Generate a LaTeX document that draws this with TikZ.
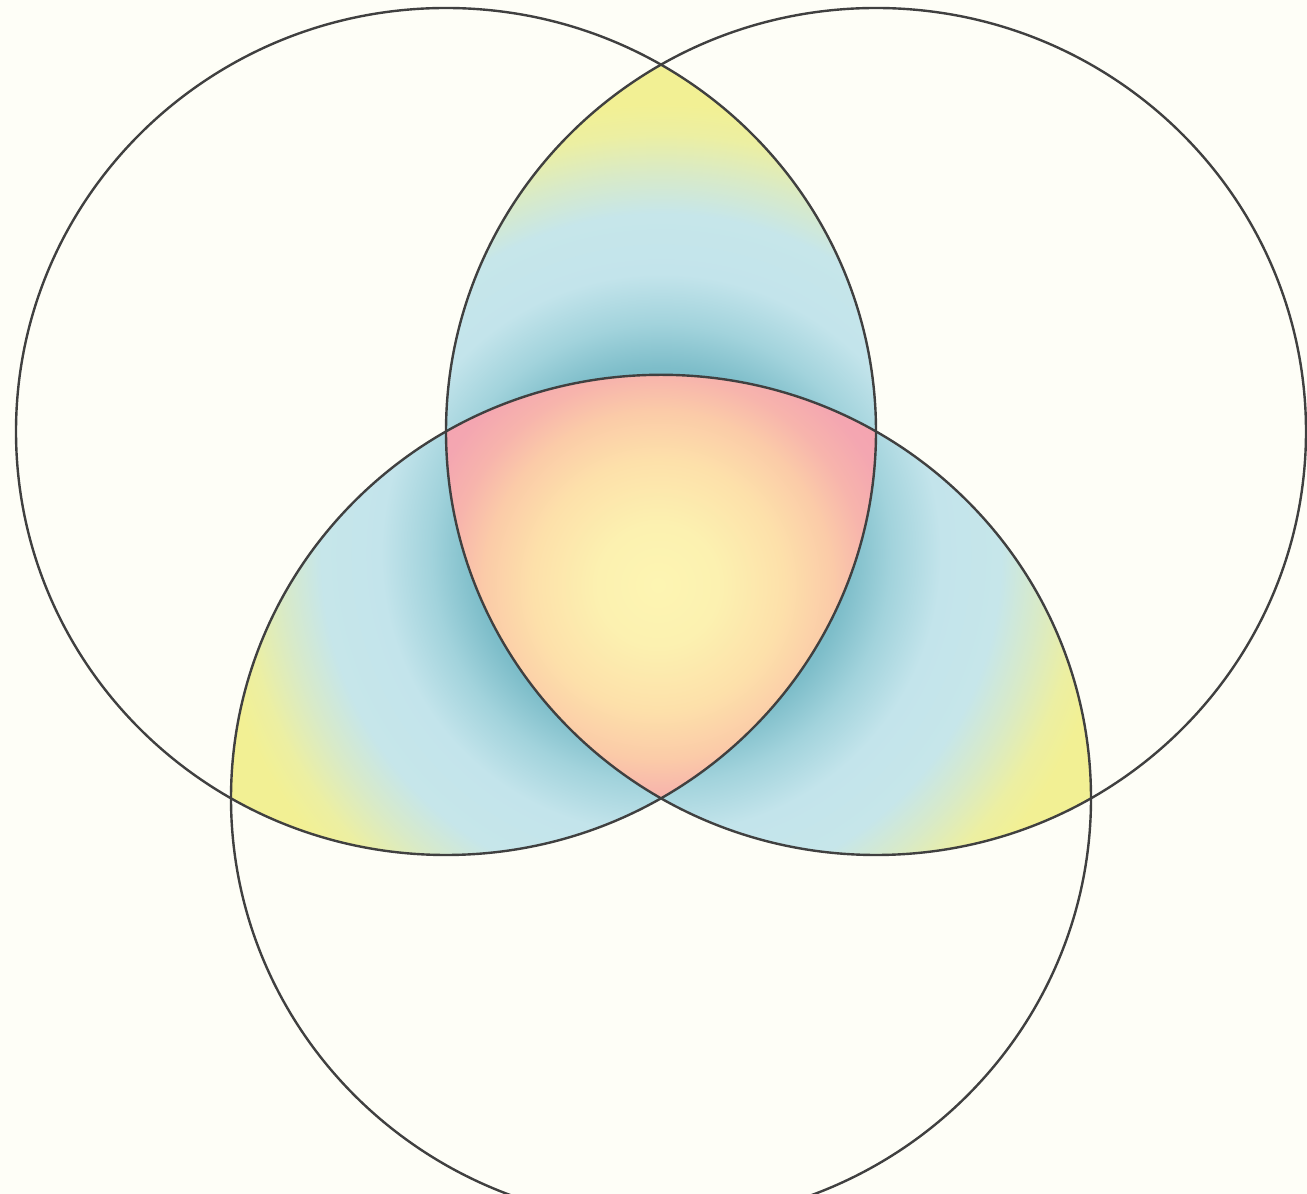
\documentclass[tikz,border=0pt]{standalone}
\usetikzlibrary{calc}
\definecolor{bgc}{HTML}{FEFEF7}
\definecolor{linec}{HTML}{404040}
\definecolor{tealA}{HTML}{6AAFBD}
\definecolor{tealB}{HTML}{7DBDC9}
\definecolor{tealC}{HTML}{A2D3DC}
\definecolor{blueL}{HTML}{C3E4EB}
\definecolor{blueM}{HTML}{C6E6EA}
\definecolor{greenY}{HTML}{D8EAC8}
\definecolor{yelA}{HTML}{ECEFA2}
\definecolor{yelB}{HTML}{F2F094}
\definecolor{cY}{HTML}{FDF5B2}
\definecolor{cY2}{HTML}{FCF1B0}
\definecolor{cP}{HTML}{FDE0AA}
\definecolor{cO}{HTML}{FBCBA8}
\definecolor{cS}{HTML}{F7B4AC}
\definecolor{cR}{HTML}{F4A6B1}
\definecolor{cR2}{HTML}{F3A2AF}
% 25bp corresponds to half the side of the shaded square
\pgfdeclareradialshading{lensshade}{\pgfpoint{0bp}{0bp}}{%
color(0bp)=(tealA); color(9.3bp)=(tealB); color(11.5bp)=(tealC); color(14bp)=(blueL);
color(17bp)=(blueM); color(19bp)=(greenY); color(21bp)=(yelA); color(22.5bp)=(yelB); color(50bp)=(yelB)}
\pgfdeclareradialshading{coreshade}{\pgfpoint{0bp}{0bp}}{%
color(0bp)=(cY); color(5bp)=(cY2); color(10.5bp)=(cP); color(14.5bp)=(cO);
color(17.5bp)=(cS); color(20.5bp)=(cR); color(25bp)=(cR2); color(50bp)=(cR2)}
\tikzset{venn/.style={draw=linec, line width=2.4pt}}
\begin{document}
\begin{tikzpicture}[x=1pt,y=1pt]
\fill[bgc] (0,0) rectangle (1307,1194);
\useasboundingbox (0,0) rectangle (1307,1194);
\coordinate (cL) at (446,762.5);
\coordinate (cR) at (876,762.5);
\coordinate (cB) at (661,395.7);
\coordinate (mid) at (661,640.2);
\coordinate (core) at (658,609);
% pairwise lenses
\begin{scope}
\clip (cL) ellipse [x radius=430, y radius=423.5];
\clip (cR) ellipse [x radius=430, y radius=423.5];
\shade[shading=lensshade] ($(mid)+(-500,-500)$) rectangle ($(mid)+(500,500)$);
\end{scope}
\begin{scope}
\clip (cL) ellipse [x radius=430, y radius=423.5];
\clip (cB) ellipse [x radius=430, y radius=423.5];
\shade[shading=lensshade] ($(mid)+(-500,-500)$) rectangle ($(mid)+(500,500)$);
\end{scope}
\begin{scope}
\clip (cR) ellipse [x radius=430, y radius=423.5];
\clip (cB) ellipse [x radius=430, y radius=423.5];
\shade[shading=lensshade] ($(mid)+(-500,-500)$) rectangle ($(mid)+(500,500)$);
\end{scope}
% triple intersection
\begin{scope}
\clip (cL) ellipse [x radius=430, y radius=423.5];
\clip (cR) ellipse [x radius=430, y radius=423.5];
\clip (cB) ellipse [x radius=430, y radius=423.5];
\shade[shading=coreshade] ($(core)+(-300,-300)$) rectangle ($(core)+(300,300)$);
\end{scope}
% outlines
\draw[venn] (cL) ellipse [x radius=430, y radius=423.5];
\draw[venn] (cR) ellipse [x radius=430, y radius=423.5];
\draw[venn] (cB) ellipse [x radius=430, y radius=423.5];
\end{tikzpicture}
\end{document}
